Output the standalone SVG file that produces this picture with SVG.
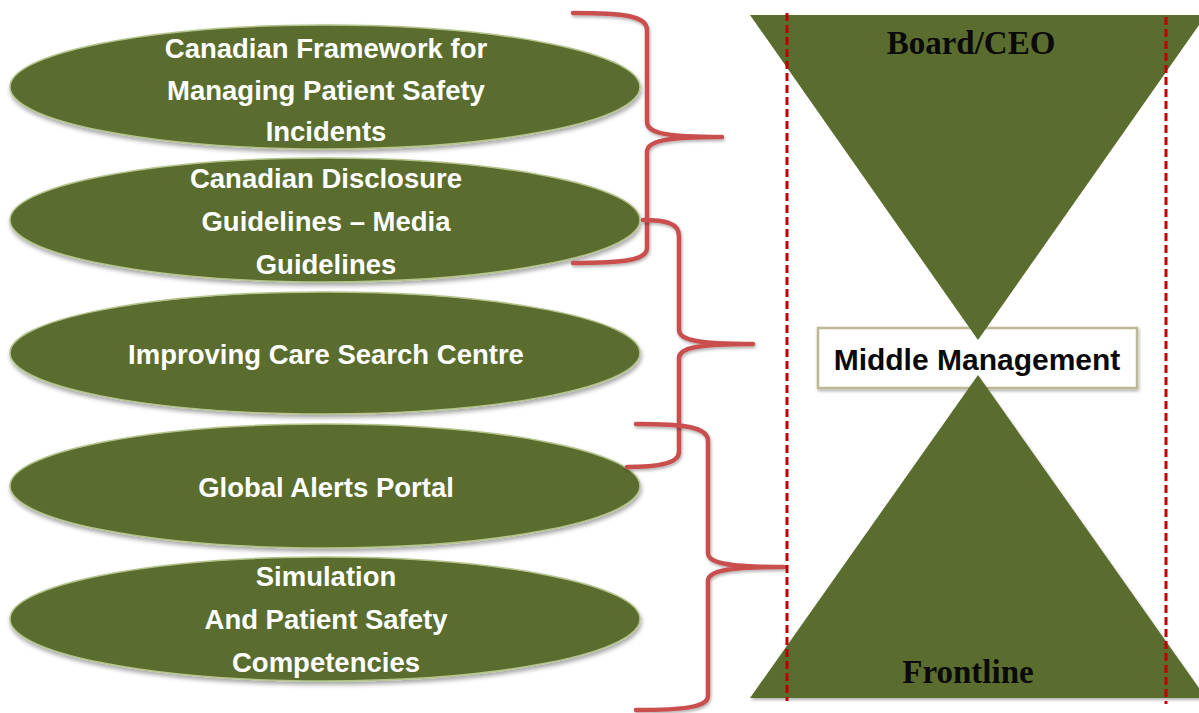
<svg xmlns="http://www.w3.org/2000/svg" width="1199" height="713" viewBox="0 0 1199 713">
<defs>
<filter id="sh" x="-10%" y="-10%" width="120%" height="130%">
<feDropShadow dx="1" dy="3" stdDeviation="2" flood-color="#000" flood-opacity="0.35"/>
</filter>
<filter id="sh2" x="-10%" y="-10%" width="120%" height="130%">
<feDropShadow dx="1" dy="2" stdDeviation="1.5" flood-color="#000" flood-opacity="0.3"/>
</filter>
</defs>
<style>
.ell{fill:#5a6d2e;stroke:#b3c38a;stroke-width:1.5;filter:url(#sh)}
.et{font-family:"Liberation Sans",Arial,sans-serif;font-weight:bold;font-size:27.5px;fill:#ffffff;text-anchor:middle}
.tri{fill:#5a6d2e}
.tt{font-family:"Liberation Serif","Times New Roman",serif;font-weight:bold;font-size:33px;fill:#0a0a0a;text-anchor:middle}
.brace{fill:none;stroke:#c9504f;stroke-width:4.5;stroke-linecap:round;stroke-linejoin:round;filter:url(#sh2)}
.dash{fill:none;stroke:#c00000;stroke-width:3;stroke-dasharray:8 4}
</style>
<g id="middle-management">
<rect x="818" y="328" width="319" height="60" fill="#ffffff" stroke="#bcb795" stroke-width="2.5" filter="url(#sh2)"/>
<text x="977" y="370" font-family="Liberation Sans,Arial,sans-serif" font-weight="bold" font-size="30" fill="#0a0a0a" text-anchor="middle">Middle Management</text>
</g>
<g id="pyramid-top">
<polygon class="tri" points="750,15 1206,15 978,340"/>
<text class="tt" x="971" y="54">Board/CEO</text>
</g>
<g id="pyramid-bottom">
<polygon class="tri" points="750,698 1206,698 978,375" filter="url(#sh2)"/>
<text class="tt" x="968" y="683">Frontline</text>
</g>
<g id="e1">
<ellipse class="ell" cx="325" cy="87" rx="315" ry="62"/>
<text class="et" x="326" y="58">Canadian Framework for</text>
<text class="et" x="326" y="100">Managing Patient Safety</text>
<text class="et" x="326" y="141">Incidents</text>
</g>
<g id="e2">
<ellipse class="ell" cx="325" cy="220" rx="315" ry="62"/>
<text class="et" x="326" y="188">Canadian Disclosure</text>
<text class="et" x="326" y="231">Guidelines – Media</text>
<text class="et" x="326" y="274">Guidelines</text>
</g>
<g id="e3">
<ellipse class="ell" cx="325" cy="353" rx="315" ry="61"/>
<text class="et" x="326" y="364">Improving Care Search Centre</text>
</g>
<g id="e4">
<ellipse class="ell" cx="325" cy="486" rx="315" ry="62"/>
<text class="et" x="326" y="497">Global Alerts Portal</text>
</g>
<g id="e5">
<ellipse class="ell" cx="325" cy="619" rx="315" ry="62"/>
<text class="et" x="326" y="586">Simulation</text>
<text class="et" x="326" y="629">And Patient Safety</text>
<text class="et" x="326" y="672">Competencies</text>
</g>
<g id="connectors">
<path class="brace" d="M573,13 C625,13 647,16 647,30 L647,122 C647,133 665,137 722,137 C665,137 647,141 647,152 L647,248 C647,260 625,263 573,263"/>
<path class="brace" d="M643,220 C665,220 679,223 679,236 L679,330 C679,340 697,344 753,344 C697,344 679,348 679,358 L679,452 C679,464 655,467 627,467"/>
<path class="brace" d="M636,424 C685,424 708,427 708,441 L708,553 C708,563 727,567 784,567 C727,567 708,571 708,581 L708,696 C708,707 685,710 636,710"/>
<line class="dash" x1="787" y1="13" x2="787" y2="701"/>
<line class="dash" x1="1166" y1="17" x2="1166" y2="704"/>
</g>
</svg>
